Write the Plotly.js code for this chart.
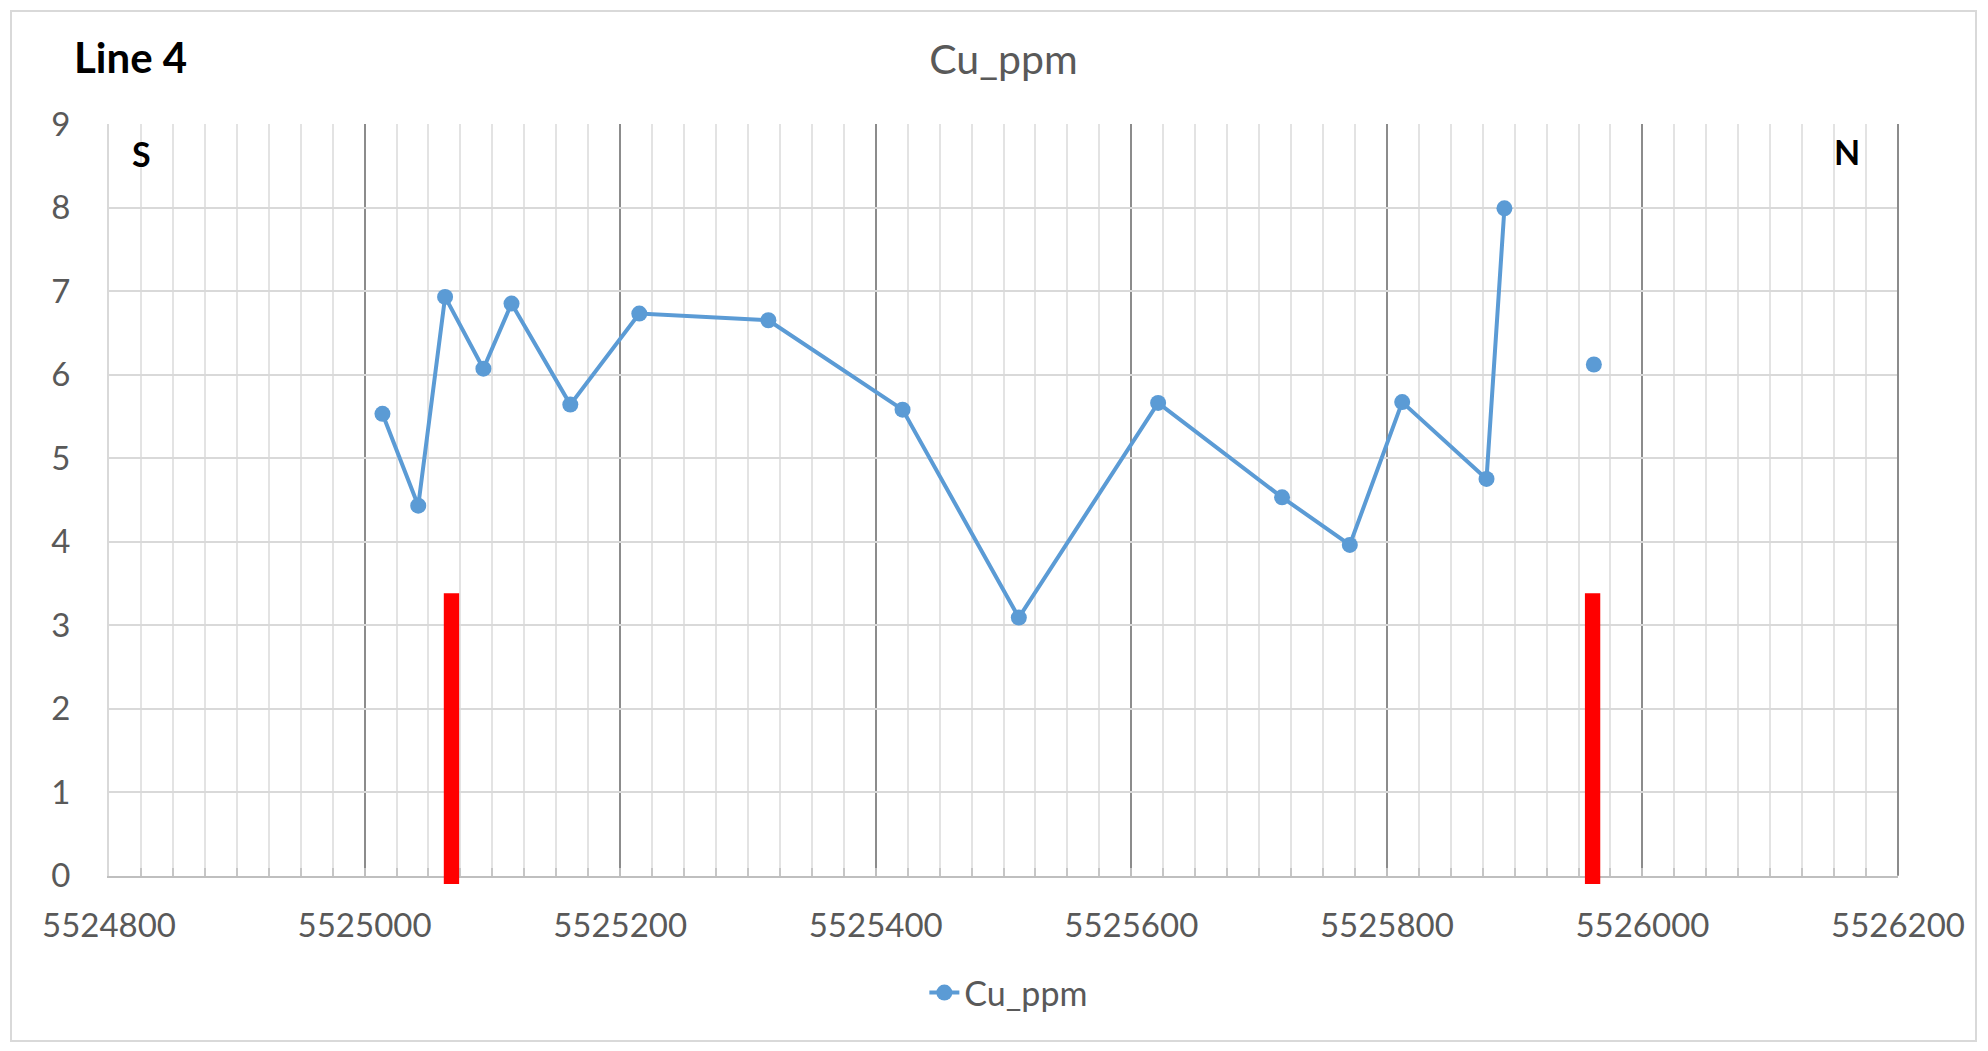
<!DOCTYPE html>
<html>
<head>
<meta charset="utf-8">
<script src="https://cdn.plot.ly/plotly-3.0.1.min.js"></script>
<style>
  html, body { margin: 0; padding: 0; background: #ffffff; }
  #wrap { position: relative; width: 1988px; height: 1051px; }
  #chart { position: absolute; left: 0; top: 0; width: 1988px; height: 1051px; }
  #frame { position: absolute; left: 10px; top: 10px; width: 1963px; height: 1028px;
           border: 2px solid #d9d9d9; pointer-events: none; }
</style>
</head>
<body>
<div id="wrap">
  <div id="chart"></div>
  <div id="frame"></div>
</div>
<script>
// Sample positions (northing, m) and Cu values (ppm); null = break in the line
const northing = [5525014, 5525042, 5525063, 5525093, 5525115, 5525161, 5525215, 5525316,
                  5525421, 5525512, 5525621, 5525718, 5525771, 5525812, 5525878, 5525892,
                  null, 5525962];
const cuPpm = [5.53, 4.43, 6.93, 6.07, 6.85, 5.64, 6.73, 6.65,
               5.58, 3.09, 5.66, 4.53, 3.96, 5.67, 4.75, 7.99,
               null, 6.12];

// Red vertical markers (structure positions)
const markerX = [5525068, 5525961];
const markerTop = [3.38, 3.38];
const markerBase = [-0.1, -0.1];

const xTickVals = [5524800, 5525000, 5525200, 5525400, 5525600, 5525800, 5526000, 5526200];
const yTickVals = [0, 1, 2, 3, 4, 5, 6, 7, 8, 9];

const FONT = 'Lato, "Open Sans", "DejaVu Sans", sans-serif';
const GRAY = '#595959';

const X_RANGE = [5524800, 5526200];
const Y_RANGE = [0, 9];
// overlay subplot reaching slightly below the axis so the red marks can cross it
const Y2_RANGE = [-0.1, 9];
const MAIN_DOMAIN_BOTTOM = (Y_RANGE[0] - Y2_RANGE[0]) / (Y2_RANGE[1] - Y2_RANGE[0]);

const traces = [
  {
    type: 'scatter',
    mode: 'lines+markers',
    name: 'Cu_ppm',
    x: northing,
    y: cuPpm,
    xaxis: 'x', yaxis: 'y',
    connectgaps: false,
    line: { color: '#5b9bd5', width: 4 },
    marker: { color: '#5b9bd5', size: 16 },
    cliponaxis: false
  },
  {
    type: 'bar',
    x: markerX,
    y: markerTop.map((t, i) => t - markerBase[i]),
    base: markerBase,
    width: 12,
    xaxis: 'x2', yaxis: 'y2',
    marker: { color: '#ff0000', line: { width: 0 } },
    showlegend: false,
    hoverinfo: 'skip'
  }
];

const layout = {
  width: 1988,
  height: 1051,
  margin: { l: 109, r: 90, t: 124, b: 167, pad: 0 },
  paper_bgcolor: '#ffffff',
  plot_bgcolor: 'rgba(0,0,0,0)',
  font: { family: FONT, color: GRAY, size: 32 },
  showlegend: true,
  title: {
    text: 'Cu_ppm',
    xref: 'paper', x: 0.5, xanchor: 'center',
    yref: 'container', y: 1 - 60 / 1051, yanchor: 'middle',
    font: { family: FONT, size: 41, color: GRAY }
  },
  xaxis: {
    range: X_RANGE,
    anchor: 'y',
    tickmode: 'array',
    tickvals: xTickVals,
    ticktext: xTickVals.map(String),
    showgrid: true,
    gridcolor: '#8c8c8c',
    gridwidth: 2,
    showline: true,
    linecolor: '#bfbfbf',
    linewidth: 2,
    ticks: 'inside',
    ticklen: 8,
    tickwidth: 2,
    tickcolor: '#bfbfbf',
    ticklabelstandoff: 20,
    tickfont: { family: FONT, size: 33, color: GRAY },
    zeroline: false,
    fixedrange: true,
    minor: {
      dtick: 25,
      tick0: 5524800,
      showgrid: true,
      gridcolor: '#e3e3e3',
      gridwidth: 2,
      ticks: 'inside',
      ticklen: 8,
      tickwidth: 2,
      tickcolor: '#c6c6c6'
    }
  },
  yaxis: {
    range: Y_RANGE,
    domain: [MAIN_DOMAIN_BOTTOM, 1],
    anchor: 'x',
    tickmode: 'array',
    tickvals: yTickVals,
    showgrid: true,
    gridcolor: '#d9d9d9',
    gridwidth: 2,
    showline: true,
    linecolor: '#d9d9d9',
    linewidth: 2,
    ticks: '',
    ticklabelstandoff: 30,
    tickfont: { family: FONT, size: 33, color: GRAY },
    zeroline: false,
    fixedrange: true
  },
  xaxis2: {
    range: X_RANGE,
    anchor: 'y2',
    visible: false,
    fixedrange: true
  },
  yaxis2: {
    range: Y2_RANGE,
    domain: [0, 1],
    anchor: 'x2',
    visible: false,
    fixedrange: true
  },
  legend: {
    orientation: 'h',
    xref: 'paper', x: 0.503, xanchor: 'center',
    yref: 'paper', y: -0.1434, yanchor: 'middle',
    font: { family: FONT, size: 34, color: GRAY },
    bgcolor: 'rgba(0,0,0,0)'
  },
  shapes: [
    {
      type: 'line',
      xref: 'x domain', x0: 1, x1: 1,
      yref: 'y domain', y0: 0, y1: 1,
      line: { color: '#8c8c8c', width: 2 }
    }
  ],
  annotations: [
    {
      text: '<b>Line 4</b>', showarrow: false,
      xref: 'paper', x: -0.0207, xanchor: 'left',
      yref: 'paper', y: 1.0882, yanchor: 'middle',
      font: { family: FONT, size: 42, color: '#000000' }
    },
    {
      text: '<b>S</b>', showarrow: false,
      xref: 'paper', x: 0.0184, xanchor: 'center',
      yref: 'paper', y: 0.9618, yanchor: 'middle',
      font: { family: FONT, size: 34, color: '#000000' }
    },
    {
      text: '<b>N</b>', showarrow: false,
      xref: 'paper', x: 0.9715, xanchor: 'center',
      yref: 'paper', y: 0.9632, yanchor: 'middle',
      font: { family: FONT, size: 34, color: '#000000' }
    }
  ]
};

Plotly.newPlot('chart', traces, layout, { displayModeBar: false, staticPlot: true });
</script>
</body>
</html>
